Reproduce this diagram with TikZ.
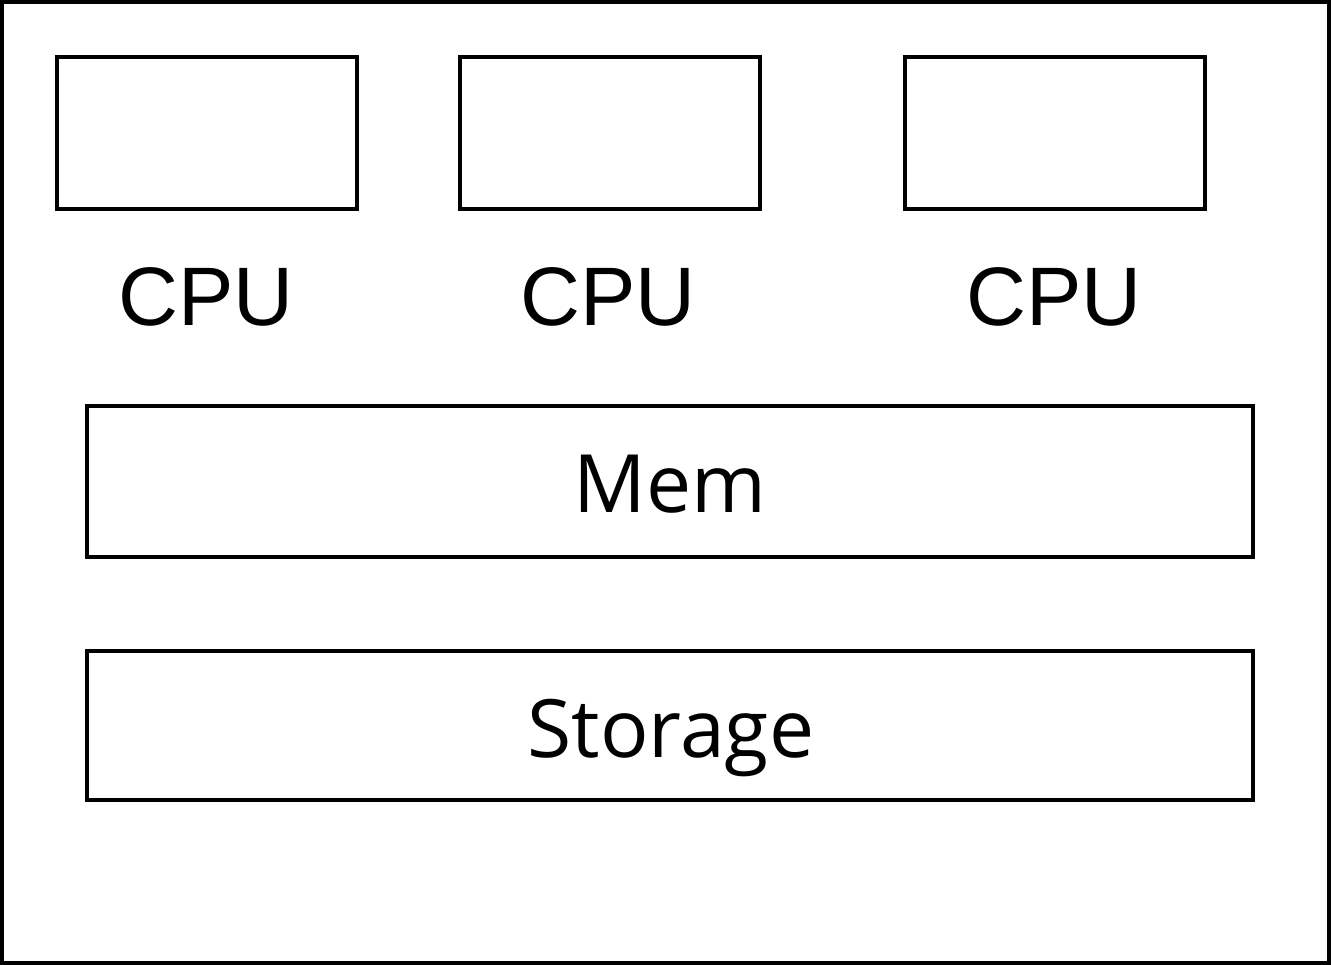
\documentclass[tikz,border=0pt]{standalone}
\usepackage{fontspec}
\newfontfamily\cpufont{Liberation Sans}
\newfontfamily\labfont{Open Sans}
\begin{document}
\begin{tikzpicture}[x=1pt,y=-1pt,
  unitbox/.style={draw=black, line width=3.4pt, inner sep=0pt, outer sep=0pt},
  cputext/.style={anchor=base, inner sep=0pt, font=\cpufont\fontsize{83}{90}\selectfont},
  labtext/.style={anchor=base, inner sep=0pt, font=\labfont\fontsize{80.5}{90}\selectfont}]
\useasboundingbox (0,0) rectangle (1331,965);
\node[draw=black, line width=4.4pt, inner sep=0pt, outer sep=0pt, minimum width=1327pt, minimum height=961pt] (frame) at (665.5,482.5) {};
\node[unitbox, minimum width=300pt, minimum height=152pt] (cpu1) at (207,133) {};
\node[unitbox, minimum width=300pt, minimum height=152pt] (cpu2) at (610,133) {};
\node[unitbox, minimum width=300pt, minimum height=152pt] (cpu3) at (1055,133) {};
\node[cputext] (cpul1) at (206,326) {CPU};
\node[cputext] (cpul2) at (608,326) {CPU};
\node[cputext] (cpul3) at (1054,326) {CPU};
\node[unitbox, minimum width=1166pt, minimum height=151pt] (mem) at (670,481.5) {};
\node[labtext] (meml) at (670,512) {Mem};
\node[unitbox, minimum width=1166pt, minimum height=149pt] (stor) at (670,725.5) {};
\node[labtext] (storl) at (671,757) {Storage};
\end{tikzpicture}
\end{document}
